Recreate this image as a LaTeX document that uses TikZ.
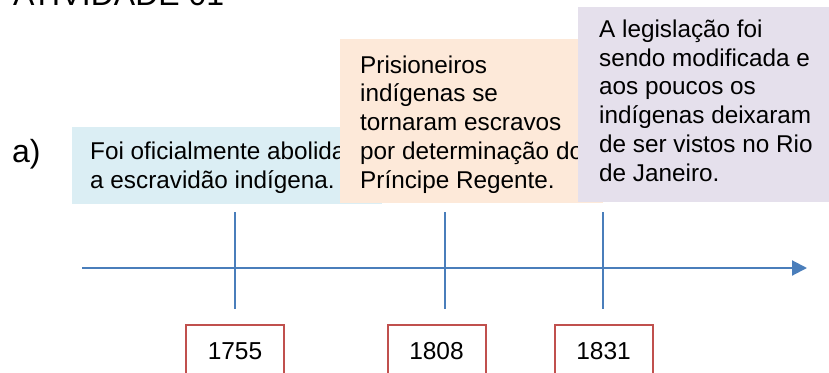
\documentclass[tikz,border=0pt]{standalone}
\usepackage{fontspec}
\setmainfont{Liberation Sans}
\usetikzlibrary{positioning,arrows.meta}
\definecolor{axisblue}{HTML}{4A7EBB}
\definecolor{yearred}{HTML}{C0504D}
\definecolor{boxblue}{HTML}{DBEEF4}
\definecolor{boxorange}{HTML}{FDE9D9}
\definecolor{boxpurple}{HTML}{E5E0EC}
\tikzset{
  axisarrow/.style={-{Triangle[length=15pt, width=15pt]}, axisblue, line width=2pt},
  tickline/.style={axisblue, line width=1.8pt},
  eventbox/.style={anchor=north west, inner sep=0pt, outer sep=0pt},
  eventtext/.style={anchor=base west, align=left, inner sep=0pt, font=\fontsize{24.3}{28.7}\selectfont},
  yearbox/.style={draw=yearred, line width=2pt, fill=white, anchor=base, minimum width=98pt, inner xsep=0pt, inner ysep=16.5pt, text height=18pt, text depth=40pt, font=\fontsize{24.5}{28}\selectfont},
  heading/.style={anchor=base west, inner sep=0pt, font=\fontsize{32}{36}\selectfont}
}

\begin{document}
\begin{tikzpicture}[x=1pt, y=-1pt]
  \clip (0,0) rectangle (829,372);
  \node[heading] (title) at (13,5.5) {ATIVIDADE 01};
  \node[heading] (item) at (12,162) {a)};
  % event boxes (text nodes sit on their last line)
  \node[eventbox, fill=boxblue, minimum width=310pt, minimum height=77pt] (ev1) at (72,127) {};
  \node[eventtext] (ev1txt) at (90,188.5) {Foi oficialmente abolida\\a escravidão indígena.};
  \node[eventbox, fill=boxorange, minimum width=263pt, minimum height=164pt] (ev2) at (340,39) {};
  \node[eventtext] (ev2txt) at (360,188) {Prisioneiros\\indígenas se\\tornaram escravos\\por determinação do\\Príncipe Regente.};
  \node[eventbox, fill=boxpurple, minimum width=260pt, minimum height=195pt] (ev3) at (578,7) {};
  \node[eventtext] (ev3txt) at (599,181) {A legislação foi\\sendo modificada e\\aos poucos os\\indígenas deixaram\\de ser vistos no Rio\\de Janeiro.};
  % timeline
  \coordinate (start) at (82,268);
  \coordinate (end) at (807,268);
  \draw[axisarrow] (start) -- (end);
  \foreach \x/\n in {235/a, 445/b, 603/c} {
    \coordinate (top\n) at (\x,212);
    \coordinate (bot\n) at (\x,309);
    \draw[tickline] (top\n) -- (bot\n);
  }
  \node[yearbox] (y1755) at (235,359.5) {1755};
  \node[yearbox] (y1808) at (436.5,359.5) {1808};
  \node[yearbox] (y1831) at (603.5,359.5) {1831};
\end{tikzpicture}
\end{document}
